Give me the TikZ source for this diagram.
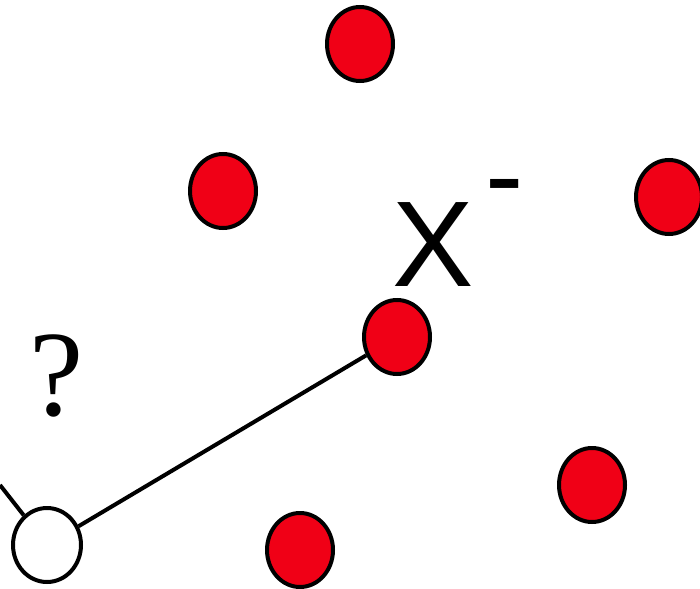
\documentclass[tikz,border=0pt]{standalone}
\usepackage{fontspec}
\setmainfont{Liberation Serif}
\newfontfamily\arialfont{Liberation Sans}
\usetikzlibrary{shapes.geometric}
\definecolor{ballred}{RGB}{240,0,22}
\tikzset{
  ball/.style={ellipse, draw=black, line width=4pt, fill=ballred, minimum width=66pt, minimum height=74pt, inner sep=0pt},
  hole/.style={ellipse, draw=black, line width=4pt, fill=white, minimum width=68pt, minimum height=74pt, inner sep=0pt},
  bond/.style={draw=black, line width=4pt},
  bigsans/.style={inner sep=0pt, font=\arialfont\fontsize{122}{122}\selectfont},
  qmark/.style={inner sep=0pt, font=\fontsize{122}{122}\selectfont}
}
\begin{document}
\begin{tikzpicture}[x=1pt,y=-1pt]
\useasboundingbox (0,0) rectangle (700,588);
\node[ball] (b1) at (360,44) {};
\node[ball] (b2) at (223,191) {};
\node[ball] (b3) at (669,197) {};
\node[ball] (b4) at (397,337) {};
\node[ball] (b5) at (592,485) {};
\node[ball] (b6) at (300,550) {};
\node[hole] (h) at (47,545) {};
\coordinate (edge) at (0,485);
\draw[bond] (h) -- (b4);
\draw[bond] (h) -- (edge);
\node[bigsans] (x) at (433,245) {X};
\node[bigsans, anchor=base west, font=\arialfont\fontsize{115}{115}\selectfont] (minus) at (485,214) {-};
\node[qmark] (q) at (57,376) {?};
\end{tikzpicture}
\end{document}
